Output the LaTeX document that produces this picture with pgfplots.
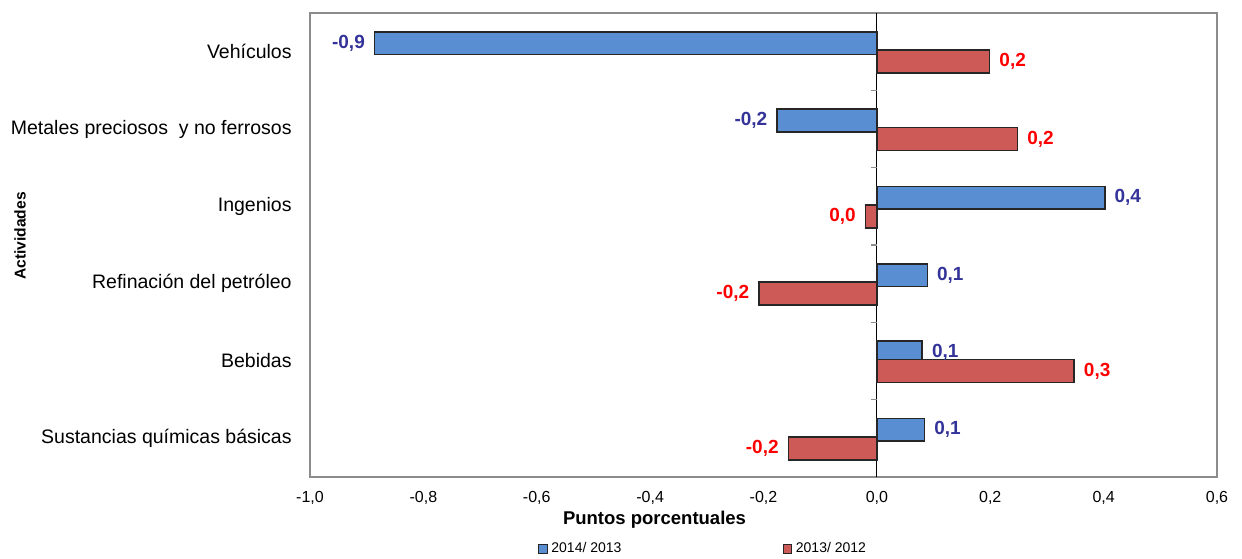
\documentclass[border=0pt]{standalone}
\usepackage{pgfplots}
\usepackage{pgfplotstable}
\pgfplotsset{compat=1.18}
\usepackage{fontspec}
\setmainfont{Liberation Sans}
\definecolor{bluebar}{HTML}{5A8ED3}
\definecolor{redbar}{HTML}{CD5A57}
\definecolor{bluelab}{HTML}{333399}
\definecolor{redlab}{HTML}{FF0000}
\definecolor{framegray}{HTML}{8C8C8C}

\pgfplotstableread{
y x label
5 -0.886 -0,9
4 -0.176 -0,2
3 0.402 0,4
2 0.089 0,1
1 0.080 0,1
0 0.084 0,1
}\bluedata

\pgfplotstableread{
y x label
5 0.199 0,2
4 0.248 0,2
3 -0.020 0,0
2 -0.208 -0,2
1 0.348 0,3
0 -0.156 -0,2
}\reddata

\begin{document}
\begin{tikzpicture}
\useasboundingbox (-155pt,-40.5pt) rectangle (466pt,238.5pt);
\begin{axis}[
  at={(0,0)}, anchor=south west,
  scale only axis, width=453.5pt, height=232pt,
  xbar,
  xmin=-1, xmax=0.6, ymin=-0.5, ymax=5.5,
  bar width=0.296,
  axis line style={draw=framegray, line width=0.6pt},
  major tick length=0pt,
  xtick={-1,-0.8,-0.6,-0.4,-0.2,0,0.2,0.4,0.6},
  xticklabels={{-1,0},{-0,8},{-0,6},{-0,4},{-0,2},{0,0},{0,2},{0,4},{0,6}},
  xticklabel style={font=\fontsize{8}{9.6}\selectfont, inner sep=0pt, anchor=north, yshift=-7pt},
  ytick={0,1,2,3,4,5},
  yticklabels={Sustancias químicas básicas, Bebidas, Refinación del petróleo, Ingenios, {Metales preciosos~ y no ferrosos}, {Vehículos\ }},
  yticklabel style={font=\fontsize{9.75}{11.7}\selectfont, inner sep=0pt, anchor=east, xshift=-9pt},
  tick style={draw=none},
  point meta=explicit symbolic,
  visualization depends on={rawx \as \rawx},
  nodes near coords,
  every node near coord/.append style={font=\bfseries\fontsize{9.5}{11}\selectfont, inner xsep=4.5pt, inner ysep=0pt,
    /utils/exec={\ifdim\rawx pt<0pt \def\myanc{east}\else\def\myanc{west}\fi},
    anchor=\myanc},
  legend columns=2,
  legend style={draw=none, fill=none, font=\fontsize{7}{8.4}\selectfont,
    at={(rel axis cs:0.4344,0)}, anchor=center, yshift=-36pt,
    /tikz/every even column/.append style={column sep=78.5pt}},
  legend image code/.code={\draw[#1, line width=0.3pt] (0pt,-2.2pt) rectangle (4.4pt,2.2pt);},
]
\draw[black, line width=0.6pt] (axis cs:0,-0.5) -- (axis cs:0,5.5);
\pgfplotsinvokeforeach{0.5,1.5,2.5,3.5,4.5}{
  \draw[framegray, line width=0.6pt] (axis cs:0,#1) -- ++(-3pt,0pt);
}
\addplot[bar shift=0.11, draw=black!85, line width=0.8pt, fill=bluebar,
  every node near coord/.append style={text=bluelab}]
  table[x=x, y=y, meta=label] {\bluedata};
\addplot[bar shift=-0.13, draw=black!85, line width=0.8pt, fill=redbar,
  every node near coord/.append style={text=redlab}]
  table[x=x, y=y, meta=label] {\reddata};
\legend{2014/ 2013, 2013/ 2012}
\end{axis}
\node[rotate=90, font=\bfseries\fontsize{7.8}{9}\selectfont] at (-145pt,120.5pt) {Actividades};
\node[font=\bfseries\fontsize{9.25}{11}\selectfont] at (172.25pt,-21.5pt) {Puntos porcentuales};
\end{tikzpicture}
\end{document}
